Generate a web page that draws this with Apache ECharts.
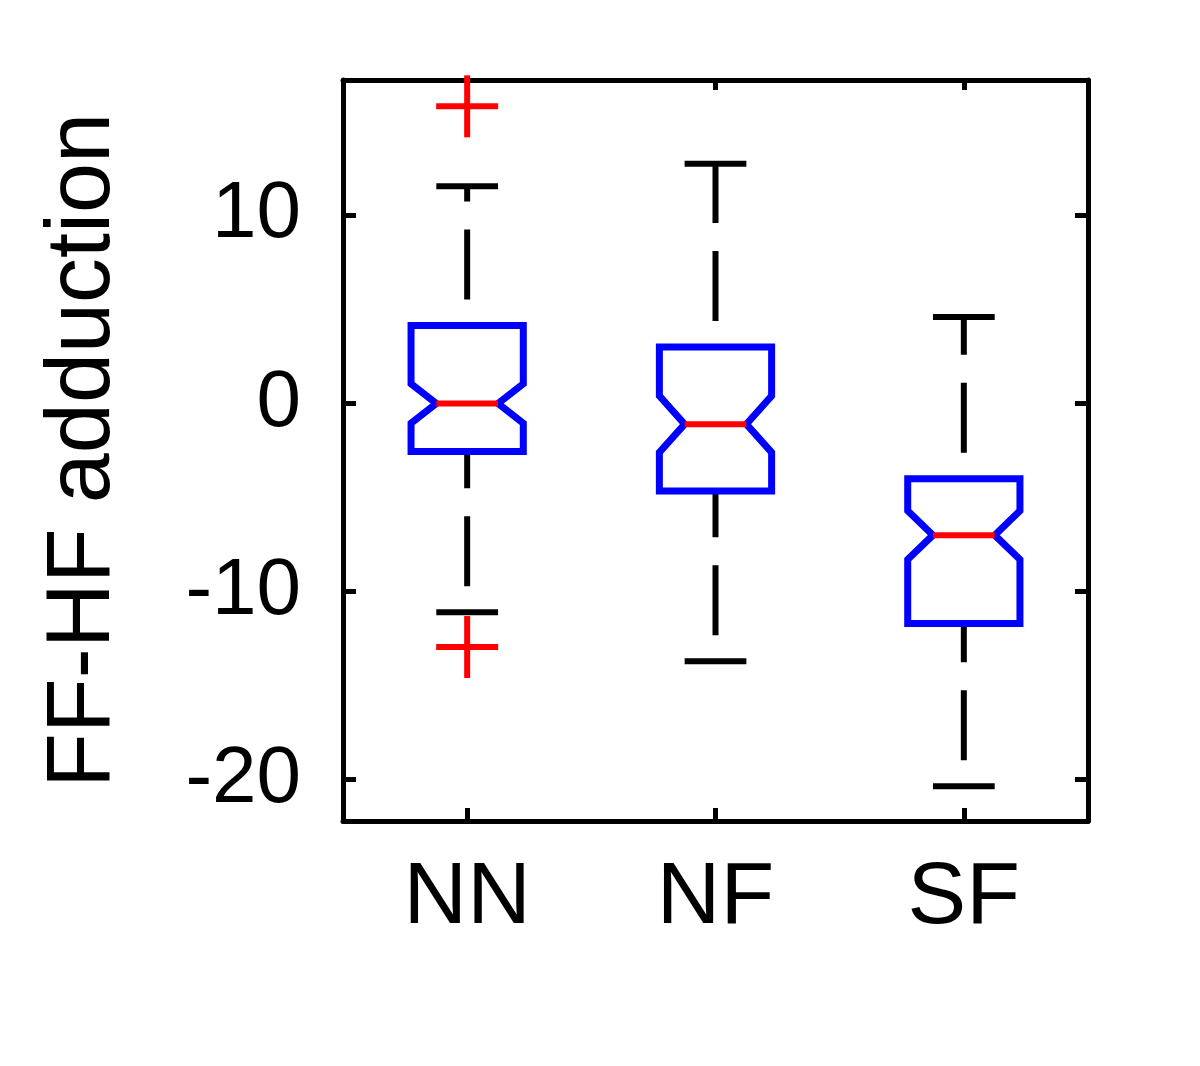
<!DOCTYPE html>
<html>
<head>
<meta charset="utf-8">
<script src="https://cdn.jsdelivr.net/npm/echarts@6/dist/echarts.min.js"></script>
<style>
  html, body { margin: 0; padding: 0; background: #fff; }
  #chart { width: 1200px; height: 1066px; }
</style>
</head>
<body>
<div id="chart"></div>
<script>
// ---- data ----
const categories = ['NN', 'NF', 'SF'];
const lowerWhisker = [-11.1, -13.7, -20.35];
const q1Values = [-2.55, -4.65, -11.7];
const medianValues = [0.0, -1.1, -7.0];
const q3Values = [4.15, 3.0, -4.0];
const upperWhisker = [11.55, 12.75, 4.6];
const notchHalf = [1.05, 1.5, 1.3];
const outlierCategory = [0, 0];
const outlierValues = [15.8, -12.95];
const yTickValues = [-20, -10, 0, 10];
const yTitle = 'FF-HF adduction';

const boxData = categories.map((c, i) => [i, lowerWhisker[i], q1Values[i], medianValues[i], q3Values[i], upperWhisker[i], notchHalf[i]]);
const outlierData = outlierCategory.map((c, i) => [c, outlierValues[i]]);

const LW = 6;
const BOX_LW = 7;
const FONT = 'Liberation Sans, Arial, sans-serif';

function renderBox(params, api) {
  const i = api.value(0);
  const lo = api.value(1), q1 = api.value(2), med = api.value(3), q3 = api.value(4), hi = api.value(5), nh = api.value(6);
  const band = api.size([1, 0])[0];
  const halfW = band * 0.226;
  const notchW = halfW * 0.55;
  const capW = notchW;
  const cx = api.coord([i, 0])[0];
  const y = v => api.coord([i, v])[1];
  const blue = '#0000ff', red = '#ff0000', black = '#000';
  const dash = { stroke: black, lineWidth: LW, lineDash: [70, 28], lineDashOffset: 72, fill: null };
  const solid = (col, w) => ({ stroke: col, lineWidth: w || LW, fill: null });
  return {
    type: 'group',
    children: [
      { type: 'line', shape: { x1: cx, y1: y(q3), x2: cx, y2: y(hi) }, style: dash },
      { type: 'line', shape: { x1: cx, y1: y(lo), x2: cx, y2: y(q1) }, style: dash },
      { type: 'line', shape: { x1: cx - capW, y1: y(hi), x2: cx + capW, y2: y(hi) }, style: solid(black) },
      { type: 'line', shape: { x1: cx - capW, y1: y(lo), x2: cx + capW, y2: y(lo) }, style: solid(black) },
      {
        type: 'polygon',
        shape: {
          points: [
            [cx - halfW, y(q3)], [cx + halfW, y(q3)], [cx + halfW, y(med + nh)], [cx + notchW, y(med)],
            [cx + halfW, y(med - nh)], [cx + halfW, y(q1)], [cx - halfW, y(q1)], [cx - halfW, y(med - nh)],
            [cx - notchW, y(med)], [cx - halfW, y(med + nh)]
          ]
        },
        style: { stroke: blue, lineWidth: BOX_LW, fill: null, lineJoin: 'miter' }
      },
      { type: 'line', shape: { x1: cx - notchW, y1: y(med), x2: cx + notchW, y2: y(med) }, style: solid(red) }
    ]
  };
}

function renderOutlier(params, api) {
  const p = api.coord([api.value(0), api.value(1)]);
  const x = p[0];
  const h = 31;
  return {
    type: 'group',
    children: [
      { type: 'line', shape: { x1: x - h, y1: p[1], x2: x + h, y2: p[1] }, style: { stroke: '#ff0000', lineWidth: LW } },
      { type: 'line', shape: { x1: x, y1: p[1] - h, x2: x, y2: p[1] + h }, style: { stroke: '#ff0000', lineWidth: LW } }
    ]
  };
}

const axisLineStyle = { show: true, onZero: false, lineStyle: { color: '#000', width: 5 } };

const option = {
  backgroundColor: '#fff',
  animation: false,
  grid: { left: 343, top: 80, right: 112, bottom: 245, containLabel: false },
  xAxis: [
    {
      type: 'category', data: categories, position: 'bottom',
      axisLine: axisLineStyle,
      axisTick: { show: true, inside: true, alignWithLabel: true, length: 13, lineStyle: { color: '#000', width: 5 } },
      axisLabel: { color: '#000', fontSize: 88, fontFamily: FONT, margin: 34 },
      splitLine: { show: false }
    },
    {
      type: 'category', data: categories, position: 'top',
      axisLine: axisLineStyle,
      axisTick: { show: true, inside: true, alignWithLabel: true, length: 10, lineStyle: { color: '#000', width: 5 } },
      axisLabel: { show: false },
      splitLine: { show: false }
    }
  ],
  yAxis: [
    {
      type: 'value', min: -22.2, max: 17.2, position: 'left',
      name: yTitle, nameLocation: 'middle', nameRotate: 90, nameGap: 214,
      nameTextStyle: { color: '#000', fontSize: 90, fontFamily: FONT },
      axisLine: axisLineStyle,
      axisTick: { show: true, inside: true, length: 13, customValues: yTickValues, lineStyle: { color: '#000', width: 5 } },
      axisLabel: { color: '#000', fontSize: 80, fontFamily: FONT, margin: 42, customValues: yTickValues },
      splitLine: { show: false }
    },
    {
      type: 'value', min: -22.2, max: 17.2, position: 'right',
      axisLine: axisLineStyle,
      axisTick: { show: true, inside: true, length: 13, customValues: yTickValues, lineStyle: { color: '#000', width: 5 } },
      axisLabel: { show: false },
      splitLine: { show: false }
    }
  ],
  series: [
    {
      type: 'custom', xAxisIndex: 0, yAxisIndex: 0, clip: false,
      renderItem: renderBox, data: boxData,
      encode: { x: 0, y: [1, 5] }
    },
    {
      type: 'custom', xAxisIndex: 0, yAxisIndex: 0, clip: false,
      renderItem: renderOutlier, data: outlierData,
      encode: { x: 0, y: 1 }
    }
  ]
};

const chart = echarts.init(document.getElementById('chart'), null, { renderer: 'canvas' });
chart.setOption(option);
</script>
</body>
</html>
